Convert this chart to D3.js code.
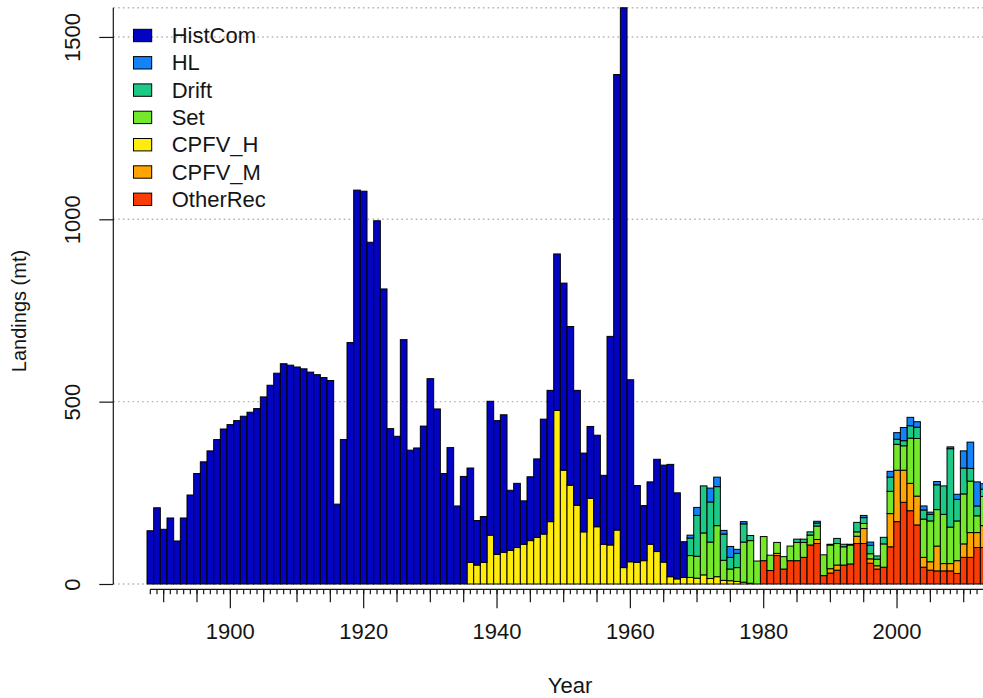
<!DOCTYPE html>
<html>
<head>
<meta charset="utf-8">
<script src="https://cdn.jsdelivr.net/npm/d3@7"></script>
<style>
  html, body { margin: 0; padding: 0; background: #fff; }
  svg { display: block; font-family: "Liberation Sans", Arial, Helvetica, sans-serif; }
</style>
</head>
<body>
<svg id="chart" width="983" height="698"></svg>
<script>
// Landings (mt) by fleet, 1888-2013. Each series lists values from its first year on.
const years = d3.range(1888, 2014);

const histComStart = 1888;
const histCom = [
  146, 209, 150, 181, 118, 181, 244, 303, 335, 365, 396, 425,          // 1888-1899
  437, 448, 460, 471, 481, 513, 545, 578, 604, 600,                    // 1900-1909
  595, 590, 581, 574, 566, 558, 219, 396, 662, 1080,                   // 1910-1919
  1077, 937, 996, 809, 426, 405, 670, 367, 373, 433,                   // 1920-1929
  563, 480, 303, 374, 214, 295, 259, 122, 126, 367,                    // 1930-1939
  367, 377, 165, 176, 119, 175, 215, 315, 360, 429,                    // 1940-1949
  513, 435, 315, 216, 197, 251, 189, 572, 1249, 1535,                  // 1950-1959
  499, 211, 151, 171, 253, 266, 308, 236, 98                           // 1960-1968
];

const hlStart = 1969;
const hl = [
  8, 22, 0, 38, 26, 10, 30, 11, 6, 0, 0,                               // 1969-1979
  0, 0, 0, 0, 0, 0, 0, 0, 5, 0,                                        // 1980-1989
  0, 0, 0, 0, 0, 6, 9, 0, 0, 16,                                       // 1990-1999
  18, 36, 23, 15, 11, 6, 9, 0, 5, 14,                                  // 2000-2009
  47, 72, 66, 15                                                       // 2010-2013
];

const driftStart = 1969;
const drift = [
  48, 112, 129, 110, 107, 72, 32, 39, 50, 14, 0,
  0, 0, 0, 0, 0, 9, 9, 9, 8, 0,
  2, 14, 7, 2, 26, 16, 23, 9, 18, 39,
  14, 14, 34, 31, 25, 18, 68, 78, 215, 59,
  71, 35, 27, 20
];

const setStart = 1969;
const setNet = [
  60, 60, 115, 100, 140, 55, 32, 38, 110, 117, 63,
  66, 42, 30, 34, 40, 50, 41, 27, 37, 57,
  65, 59, 50, 52, 12, 14, 14, 18, 64, 61,
  71, 67, 124, 158, 105, 112, 100, 135, 100, 109,
  137, 141, 46, 80
];

const cpfvHStart = 1936;
const cpfvH = [
  59, 52, 59, 134,                                                     // 1936-1939
  81, 87, 92, 100, 109, 119, 128, 137, 171, 476,                       // 1940-1949
  312, 271, 216, 143, 235, 157, 109, 107, 148, 45,                     // 1950-1959
  61, 59, 64, 109, 89, 60, 20, 14, 18, 18,                             // 1960-1969
  16, 25, 15, 20, 10, 9, 7, 5, 2, 0                                    // 1970-1979
];

const cpfvMStart = 1980;
const cpfvM = [
  0, 0, 6, 0, 0, 0, 0, 0, 11, 0,
  12, 14, 0, 0, 20, 41, 12, 9, 0, 91,
  141, 88, 75, 79, 27, 23, 68, 20, 20, 35,
  37, 68, 41, 60
];

const otherRecStart = 1980;
const otherRec = [
  64, 37, 78, 41, 64, 64, 73, 107, 111, 23,
  30, 38, 52, 55, 111, 111, 57, 41, 46, 102,
  171, 224, 201, 162, 46, 38, 36, 36, 36, 29,
  73, 73, 100, 100
];

const yTicks = [0, 500, 1000, 1500];

// Legend order (top to bottom); the stack runs the other way, OtherRec at the base.
const fleets = ["HistCom", "HL", "Drift", "Set", "CPFV_H", "CPFV_M", "OtherRec"];
const fleetColors = {
  HistCom: "#0303C2",
  HL: "#1383FB",
  Drift: "#1CC986",
  Set: "#74E92B",
  CPFV_H: "#FFEB0C",
  CPFV_M: "#FFA402",
  OtherRec: "#F93C06"
};

const seriesByFleet = {
  HistCom: [histComStart, histCom],
  HL: [hlStart, hl],
  Drift: [driftStart, drift],
  Set: [setStart, setNet],
  CPFV_H: [cpfvHStart, cpfvH],
  CPFV_M: [cpfvMStart, cpfvM],
  OtherRec: [otherRecStart, otherRec]
};

// One row per year, missing years count as zero landings.
const table = years.map(yr => {
  const row = { year: yr };
  fleets.forEach(f => {
    const [start, vals] = seriesByFleet[f];
    const v = vals[yr - start];
    row[f] = (v === undefined) ? 0 : v;
  });
  return row;
});

const stackKeys = fleets.slice().reverse();
const stacked = d3.stack().keys(stackKeys)(table);
const maxTotal = d3.max(table, r => d3.sum(stackKeys, k => r[k]));

const svg = d3.select("#chart");
const W = 983;

const yearStep = 6.667;
const x = d3.scaleBand()
  .domain(years)
  .range([147, 147 + years.length * yearStep])
  .paddingInner(0).paddingOuter(0);

const y = d3.scaleLinear()
  .domain([0, 1600])
  .range([584, 584 - 1600 * 0.3647]);

const axisX = 113.3;
const ink = "#151515";
const labelSize = 22;

// dotted reference lines behind the bars
svg.append("g")
  .selectAll("line")
  .data(yTicks.concat([maxTotal]))
  .join("line")
  .attr("x1", axisX).attr("x2", W)
  .attr("y1", d => y(d)).attr("y2", d => y(d))
  .attr("stroke", "#b4b4b4")
  .attr("stroke-width", 1.4)
  .attr("stroke-dasharray", "1.6,3.2");

// stacked bars
const bars = svg.append("g");
stacked.forEach(layer => {
  bars.append("g")
    .attr("fill", fleetColors[layer.key])
    .attr("stroke", "#000")
    .attr("stroke-width", 1)
    .selectAll("rect")
    .data(layer.filter(d => d[1] - d[0] > 0))
    .join("rect")
    .attr("x", d => x(d.data.year))
    .attr("width", x.bandwidth())
    .attr("y", d => y(d[1]))
    .attr("height", d => y(d[0]) - y(d[1]));
});

// y axis
const yAxisG = svg.append("g")
  .attr("transform", `translate(${axisX},0)`)
  .call(d3.axisLeft(y).tickValues(yTicks).tickSize(14).tickFormat(d3.format("d")));
yAxisG.select(".domain").remove();
yAxisG.selectAll(".tick line").attr("stroke", ink).attr("stroke-width", 1.2);
yAxisG.selectAll(".tick text")
  .attr("x", null).attr("dy", null)
  .attr("transform", "translate(-33,0) rotate(-90)")
  .attr("text-anchor", "middle")
  .attr("fill", ink)
  .attr("font-size", labelSize)
  .attr("font-family", null);
yAxisG.append("line")
  .attr("x1", 0).attr("x2", 0)
  .attr("y1", y(0)).attr("y2", y(maxTotal))
  .attr("stroke", ink).attr("stroke-width", 1.2);

// x axis: yearly, 5-year and 20-year ticks
const xAxisY = 589.3;
const xg = svg.append("g").attr("transform", `translate(0,${xAxisY})`);
const tickSets = [
  { vals: years, size: 5 },
  { vals: years.filter(v => v % 5 === 0 && v % 20 !== 0), size: 13 },
  { vals: years.filter(v => v % 20 === 0), size: 19, label: true }
];
tickSets.forEach(ts => {
  const g = xg.append("g")
    .call(d3.axisBottom(x).tickValues(ts.vals).tickSize(ts.size).tickSizeOuter(0)
      .tickFormat(ts.label ? d3.format("d") : () => ""));
  g.select(".domain").remove();
  g.selectAll(".tick line").attr("stroke", ink).attr("stroke-width", 1.2);
  g.selectAll(".tick text")
    .attr("y", 49.5).attr("dy", null)
    .attr("fill", ink)
    .attr("font-size", labelSize)
    .attr("font-family", null);
});
xg.append("line")
  .attr("x1", x(years[0]) + x.bandwidth() / 2)
  .attr("x2", x(years[years.length - 1]) + x.bandwidth() / 2)
  .attr("y1", 0).attr("y2", 0)
  .attr("stroke", ink).attr("stroke-width", 1.2);

// axis titles
svg.append("text")
  .attr("x", 570).attr("y", 693)
  .attr("text-anchor", "middle")
  .attr("font-size", labelSize).attr("fill", ink)
  .text("Year");
svg.append("text")
  .attr("transform", "translate(26,311) rotate(-90)")
  .attr("text-anchor", "middle")
  .attr("font-size", 20).attr("fill", ink)
  .text("Landings (mt)");

// legend
const legend = svg.append("g");
const rowH = 27.3;
fleets.forEach((f, i) => {
  const cy = 35.5 + i * rowH;
  legend.append("rect")
    .attr("x", 133.5).attr("y", cy - 6.2)
    .attr("width", 18.2).attr("height", 12.4)
    .attr("fill", fleetColors[f])
    .attr("stroke", "#000").attr("stroke-width", 1);
  legend.append("text")
    .attr("x", 171.7).attr("y", cy + 7.6)
    .attr("font-size", labelSize).attr("fill", ink)
    .text(f);
});
</script>
</body>
</html>
